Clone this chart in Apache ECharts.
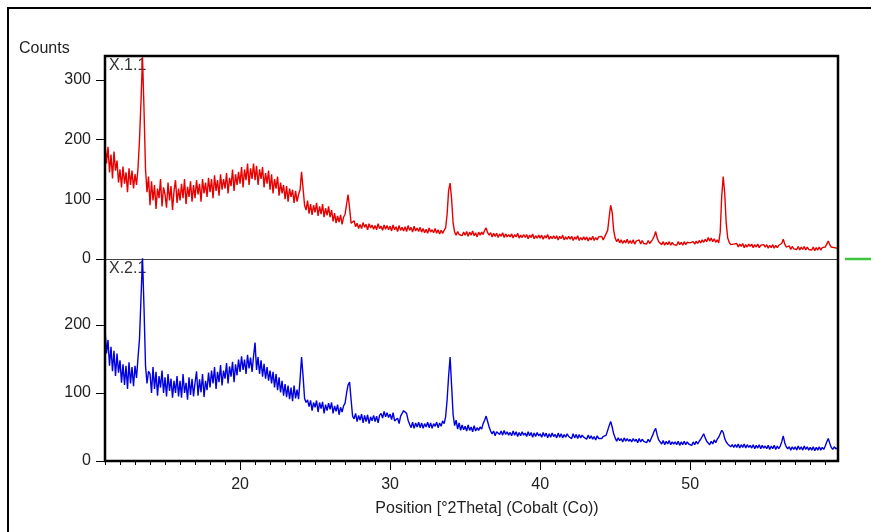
<!DOCTYPE html>
<html>
<head>
<meta charset="utf-8">
<script src="https://cdn.jsdelivr.net/npm/echarts@6/dist/echarts.min.js"></script>
<style>
  html, body { margin: 0; padding: 0; background: #fff; }
  #chart { width: 871px; height: 532px; }
</style>
</head>
<body>
<div id="chart"></div>
<script>
// scan grid: 2Theta from 11.0 step 0.1
const START = 11.0
const STEP = 0.1
const X_MIN = 11.0
const X_MAX = 59.85

const xMajorTicks = [20, 30, 40, 50]
const yTopTicks = [0, 100, 200, 300]
const yBottomTicks = [0, 100, 200]

// X.1.1 (red), one row per degree
const countsX11 = [
  192, 160, 188, 145, 175, 135, 180, 148, 165, 128,
  150, 120, 155, 126, 145, 112, 152, 124, 148, 118,
  142, 124, 152, 200, 265, 338, 250, 150, 112, 138,
  90, 130, 98, 124, 84, 118, 102, 134, 88, 120,
  108, 86, 128, 98, 122, 82, 114, 132, 94, 118,
  98, 126, 102, 134, 92, 121, 104, 130, 96, 124,
  102, 132, 108, 126, 96, 134, 110, 128, 104, 136,
  112, 134, 102, 140, 114, 132, 106, 142, 116, 134,
  118, 144, 110, 136, 122, 150, 114, 142, 124, 146,
  126, 154, 120, 150, 132, 160, 124, 152, 134, 160,
  132, 156, 124, 150, 134, 154, 120, 144, 126, 148,
  116, 142, 110, 134, 118, 138, 106, 128, 110, 124,
  100, 122, 96, 118, 104, 116, 94, 114, 96, 108,
  116, 146, 118, 90, 82, 98, 76, 92, 74, 90,
  78, 94, 72, 88, 75, 92, 70, 85, 73, 88,
  70, 82, 63, 77, 60, 72, 62, 74, 58, 70,
  75, 92, 108, 85, 60, 58, 64, 54, 60, 51,
  58, 51, 61, 53, 58, 49, 59, 52, 57, 50,
  56, 49, 59, 51, 55, 48, 57, 50, 56, 49,
  55, 47, 57, 49, 54, 46, 56, 48, 53, 47,
  54, 46, 56, 48, 53, 45, 55, 47, 52, 46,
  53, 45, 51, 44, 50, 43, 52, 45, 49, 44,
  51, 43, 49, 42, 48, 43, 48, 52, 75, 115,
  127, 100, 60, 45, 40, 46, 41, 44, 39, 45,
  40, 46, 38, 45, 40, 47, 39, 44, 37, 45,
  40, 45, 41, 48, 52, 44, 40, 44, 37, 43,
  38, 43, 36, 42, 38, 44, 36, 42, 37, 41,
  37, 42, 35, 41, 37, 43, 35, 40, 36, 41,
  36, 41, 34, 40, 36, 42, 34, 39, 35, 40,
  35, 40, 33, 39, 35, 41, 33, 38, 34, 39,
  34, 39, 32, 38, 34, 40, 32, 37, 33, 38,
  33, 38, 31, 37, 33, 39, 31, 36, 32, 37,
  32, 37, 30, 36, 32, 38, 31, 36, 32, 37,
  34, 38, 32, 37, 35, 48, 70, 90, 78, 48,
  35, 29, 34, 27, 32, 26, 31, 27, 33, 26,
  31, 26, 32, 25, 30, 27, 32, 25, 31, 26,
  29, 25, 31, 26, 29, 33, 38, 46, 35, 29,
  27, 24, 29, 23, 28, 24, 29, 23, 28, 24,
  26, 23, 29, 24, 28, 23, 29, 24, 28, 25,
  27, 24, 29, 25, 30, 26, 31, 27, 32, 28,
  33, 29, 36, 30, 35, 29, 34, 28, 32, 27,
  45, 105, 138, 110, 60, 35, 28, 24, 22, 25,
  22, 26, 20, 25, 21, 26, 19, 24, 20, 25,
  21, 25, 19, 24, 20, 25, 19, 23, 20, 24,
  20, 24, 18, 23, 19, 24, 18, 23, 19, 23,
  21, 26, 33, 25, 20, 18, 22, 16, 21, 17,
  19, 16, 21, 15, 20, 16, 21, 15, 20, 16,
  18, 15, 20, 14, 19, 15, 20, 15, 19, 16,
  20, 25, 30, 24, 20, 17, 19, 16, 18
]

// X.2.1 (blue)
const countsX21 = [
  195, 158, 178, 140, 168, 132, 162, 125, 158, 130,
  148, 115, 142, 112, 140, 106, 145, 114, 138, 110,
  140, 122, 152, 180, 240, 299, 225, 140, 114, 132,
  128, 100, 138, 106, 131, 96, 125, 108, 133, 100,
  123, 95, 128, 103, 121, 93, 118, 100, 125, 95,
  118, 93, 128, 100, 115, 90, 123, 97, 121, 95,
  115, 132, 96, 120, 101, 128, 94, 118, 104, 130,
  108, 133, 114, 138, 106, 131, 116, 141, 111, 133,
  121, 144, 114, 139, 124, 146, 116, 142, 126, 149,
  131, 154, 134, 149, 128, 156, 136, 152, 131, 154,
  174, 134, 153, 128, 148, 124, 143, 121, 138, 118,
  133, 114, 131, 108, 128, 104, 123, 101, 118, 96,
  113, 94, 111, 91, 108, 88, 111, 92, 105, 91,
  120, 153, 125, 92, 86, 90, 80, 89, 74, 86,
  79, 89, 72, 86, 77, 87, 70, 83, 74, 85,
  76, 86, 70, 81, 73, 83, 68, 79, 72, 81,
  85, 100, 112, 116, 90, 66, 62, 70, 58, 67,
  60, 69, 56, 67, 58, 68, 55, 65, 59, 67,
  58, 66, 56, 67, 70, 63, 73, 65, 71, 64,
  69, 61, 71, 59, 57, 63, 55, 66, 70, 74,
  76, 70, 60, 54, 49, 57, 48, 56, 50, 57,
  49, 56, 48, 55, 50, 57, 49, 56, 48, 55,
  51, 57, 49, 56, 51, 59, 55, 65, 90, 125,
  153, 110, 68, 52, 60, 47, 56, 45, 53, 46,
  51, 44, 53, 45, 50, 43, 52, 44, 49, 45,
  50, 47, 55, 60, 66, 58, 50, 44, 40, 44,
  37, 43, 45, 39, 44, 38, 45, 39, 43, 38,
  42, 37, 44, 38, 43, 36, 42, 37, 43, 38,
  41, 36, 43, 37, 42, 35, 41, 36, 42, 37,
  40, 35, 42, 36, 41, 34, 40, 35, 41, 36,
  39, 34, 41, 35, 40, 34, 39, 35, 40, 36,
  38, 33, 40, 34, 39, 33, 39, 34, 38, 35,
  37, 32, 38, 33, 37, 32, 36, 31, 37, 33,
  35, 33, 36, 34, 38, 45, 52, 58, 50, 40,
  34, 29, 34, 30, 33, 28, 34, 29, 33, 29,
  32, 28, 33, 29, 32, 27, 33, 28, 32, 29,
  30, 27, 32, 28, 33, 38, 44, 48, 38, 31,
  29, 25, 30, 24, 29, 25, 30, 24, 28, 25,
  28, 24, 29, 23, 28, 24, 29, 24, 28, 25,
  27, 23, 28, 24, 29, 25, 29, 32, 36, 40,
  34, 29, 27, 24, 29, 25, 31, 27, 32, 35,
  40, 45, 42, 33, 28, 25, 23, 21, 24, 20,
  24, 20, 25, 19, 24, 20, 25, 19, 24, 20,
  23, 19, 24, 18, 23, 19, 24, 18, 23, 19,
  22, 18, 23, 17, 22, 18, 23, 17, 22, 18,
  22, 28, 37, 27, 21, 18, 21, 16, 21, 17,
  21, 16, 22, 17, 21, 16, 22, 17, 21, 16,
  20, 16, 21, 15, 20, 16, 21, 16, 20, 17,
  22, 28, 33, 26, 20, 17, 21, 18, 19
]

const FONT = 'Liberation Sans, Arial, sans-serif'

function toPairs(arr) {
  return arr.map((v, i) => [Math.round((START + i * STEP) * 100) / 100, v])
}

// minor ticks every 1 degree
const xMinorTicks = []
for (let t = 11; t <= 59; t++) xMinorTicks.push(t)

const chart = echarts.init(document.getElementById('chart'), null, { renderer: 'canvas' })
chart.setOption({
  animation: false,
  backgroundColor: '#fff',
  title: {
    text: 'Counts',
    left: 14,
    top: 36,
    textStyle: { fontFamily: FONT, fontSize: 16, fontWeight: 'normal', color: '#222' }
  },
  graphic: [
    { type: 'rect', shape: { x: 8, y: 8, width: 900, height: 600 }, style: { fill: 'none', stroke: '#000', lineWidth: 2 }, silent: true },
    { type: 'text', left: 109, top: 58, style: { text: 'X.1.1', fontFamily: FONT, fontSize: 16, fill: '#333' } },
    { type: 'text', left: 109, top: 261, style: { text: 'X.2.1', fontFamily: FONT, fontSize: 16, fill: '#333' } },
    { type: 'line', shape: { x1: 845, y1: 259, x2: 871, y2: 259 }, style: { stroke: '#3fc43f', lineWidth: 2.5 }, silent: true }
  ],
  grid: [
    { left: 105, right: 33, top: 56, height: 203 },
    { left: 105, right: 33, top: 259, height: 202 },
    { left: 105, right: 33, top: 56, height: 405, show: true, borderColor: '#000', borderWidth: 2.5, backgroundColor: 'transparent', z: 10 }
  ],
  xAxis: [
    {
      gridIndex: 0, type: 'value', position: 'bottom', min: X_MIN, max: X_MAX,
      axisLine: { show: true, lineStyle: { color: '#444', width: 1 } },
      axisTick: { show: false }, axisLabel: { show: false }, splitLine: { show: false }
    },
    {
      gridIndex: 1, type: 'value', position: 'bottom', min: X_MIN, max: X_MAX,
      axisLine: { show: false },
      axisTick: { show: true, customValues: xMinorTicks, length: 4, lineStyle: { color: '#000', width: 1 } },
      axisLabel: { show: false }, splitLine: { show: false }
    },
    {
      gridIndex: 1, type: 'value', position: 'bottom', min: X_MIN, max: X_MAX,
      axisLine: { show: false },
      axisTick: { show: true, customValues: xMajorTicks, length: 9, lineStyle: { color: '#000', width: 1 } },
      axisLabel: { show: true, customValues: xMajorTicks, margin: 16, fontFamily: FONT, fontSize: 16, color: '#222' },
      splitLine: { show: false },
      name: 'Position [°2Theta] (Cobalt (Co))',
      nameLocation: 'middle',
      nameGap: 40,
      nameTextStyle: { fontFamily: FONT, fontSize: 16, color: '#222', padding: [0, 0, 0, 31] }
    },
    { gridIndex: 2, type: 'value', min: 0, max: 1, show: false }
  ],
  yAxis: [
    {
      gridIndex: 0, type: 'value', min: 0, max: 340,
      axisLine: { show: false },
      axisTick: { show: true, customValues: yTopTicks, length: 9, lineStyle: { color: '#000', width: 1 } },
      axisLabel: { show: true, customValues: yTopTicks, margin: 14, fontFamily: FONT, fontSize: 16, color: '#222' },
      splitLine: { show: false }
    },
    {
      gridIndex: 1, type: 'value', min: 0, max: 297,
      axisLine: { show: false },
      axisTick: { show: true, customValues: yBottomTicks, length: 9, lineStyle: { color: '#000', width: 1 } },
      axisLabel: { show: true, customValues: yBottomTicks, margin: 14, fontFamily: FONT, fontSize: 16, color: '#222' },
      splitLine: { show: false }
    },
    { gridIndex: 2, type: 'value', min: 0, max: 1, show: false }
  ],
  series: [
    {
      name: 'X.1.1',
      type: 'line',
      xAxisIndex: 0,
      yAxisIndex: 0,
      data: toPairs(countsX11),
      showSymbol: false,
      symbol: 'none',
      lineStyle: { color: '#e80000', width: 1.4 },
      itemStyle: { color: '#e80000' },
      z: 3
    },
    {
      name: 'X.2.1',
      type: 'line',
      xAxisIndex: 1,
      yAxisIndex: 1,
      data: toPairs(countsX21),
      showSymbol: false,
      symbol: 'none',
      lineStyle: { color: '#0000e0', width: 1.4 },
      itemStyle: { color: '#0000e0' },
      z: 3
    }
  ]
})
</script>
</body>
</html>
